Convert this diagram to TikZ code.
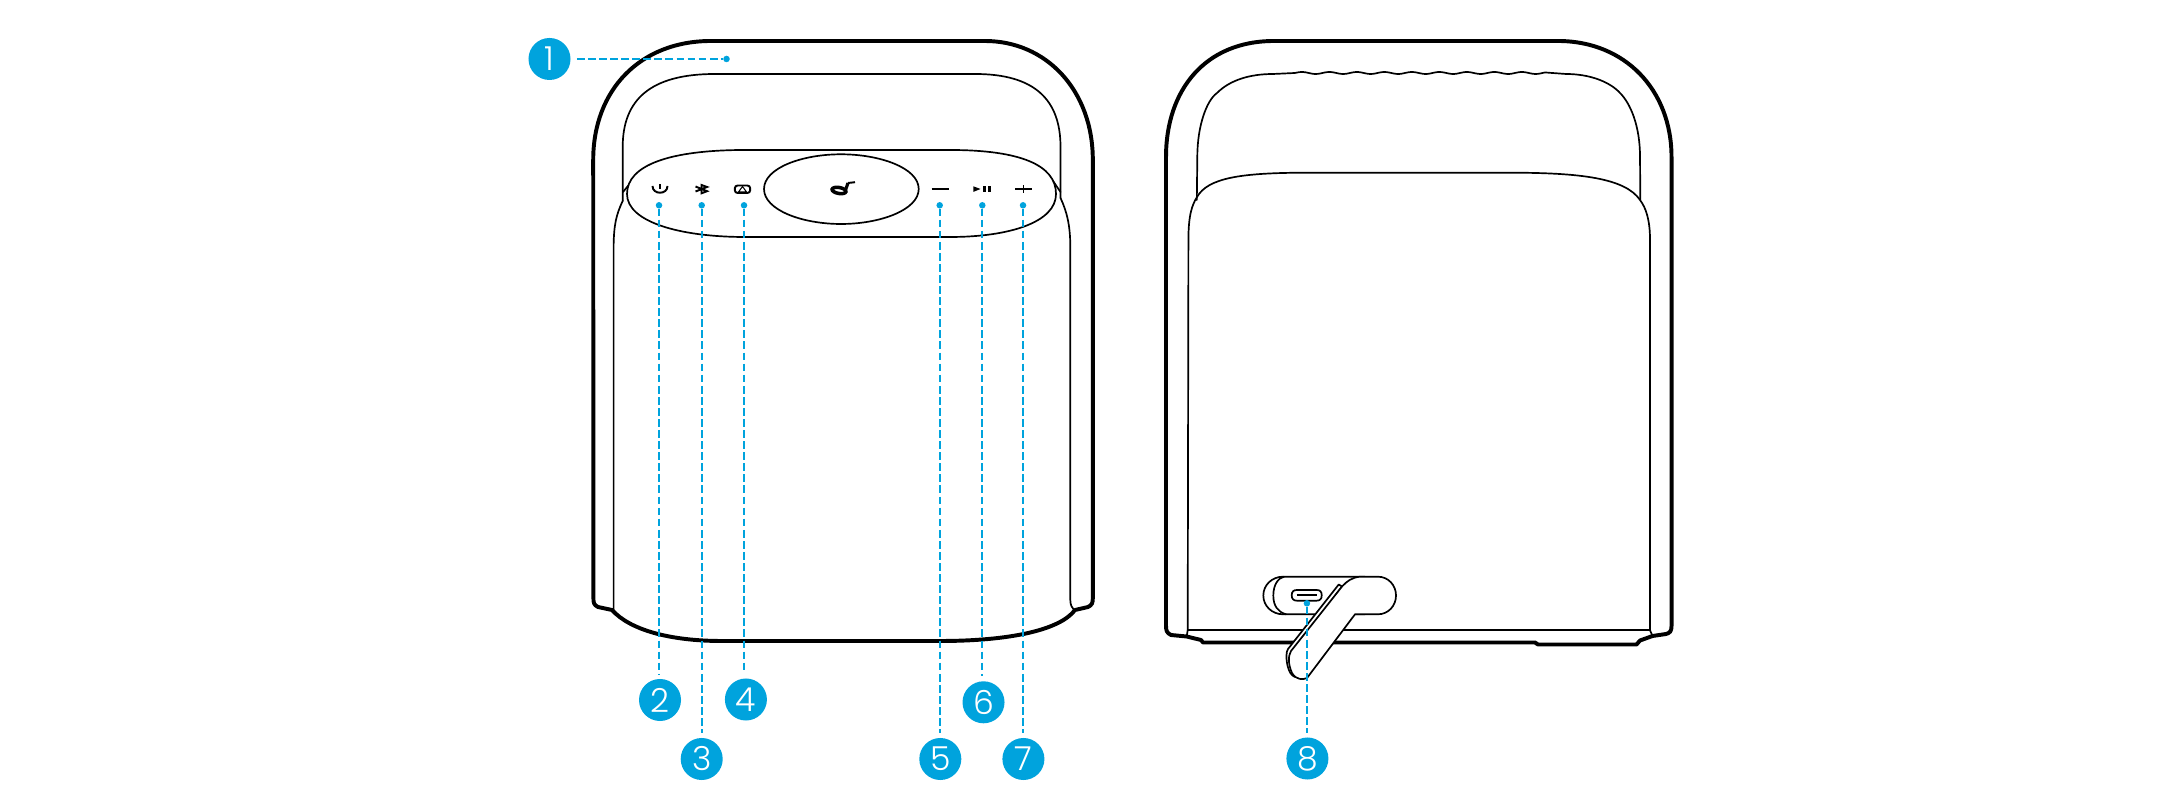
\documentclass[tikz,border=0pt]{standalone}
\usepackage{fontspec}
\setmainfont{Poppins}[UprightFont=* Light]
\definecolor{leadblue}{HTML}{00A3DD}
\tikzset{
  heavy/.style={black,line width=1.12pt,line join=round,line cap=round},
  thin line/.style={black,line width=0.48pt,line join=round,line cap=round},
  glyph/.style={black,line width=0.55pt},
  badge/.style={circle,fill=leadblue,text=white,minimum size=11.95pt,inner sep=0pt,outer sep=0pt,font=\fontsize{9.4pt}{9.4pt}\selectfont},
  pin/.style={circle,fill=leadblue,minimum size=1.85pt,inner sep=0pt,outer sep=0pt},
  leader/.style={leadblue,line width=0.55pt,dash pattern=on 2.2pt off 0.95pt},
}
\begin{document}
\begin{tikzpicture}[x=0.01cm,y=-0.01cm]
\useasboundingbox (0,0) rectangle (2180,798);

% --- front view ---
\draw[heavy] (598,607) .. controls (594,605) and (593.4,603) .. (593.4,598)
  -- (593.2,160) .. controls (593.2,90) and (640,41) .. (711,41)
  -- (985,41) .. controls (1046,41) and (1092.8,90) .. (1092.8,160)
  -- (1092.8,598) .. controls (1092.8,603) and (1092,605) .. (1088,607)
  -- (1075,610) .. controls (1060,630) and (1010,641) .. (940,641)
  -- (722,641) .. controls (670,641) and (630,630) .. (612,610) -- cycle;
\draw[thin line] (622.7,201) -- (622.7,147) .. controls (622.7,100) and (650,74) .. (715,74)
  -- (975,74) .. controls (1035,74) and (1060.5,100) .. (1060.5,147) -- (1060.5,198);
\draw[thin line] (622.7,201) .. controls (616,215) and (614,225) .. (613.6,245) -- (613.6,610);
\draw[thin line] (1060.5,198) .. controls (1067,212) and (1070,225) .. (1070.3,245) -- (1070.3,600)
  .. controls (1070.3,605) and (1072,608) .. (1074,610);
\draw[thin line] (623,192) -- (632,181);
\draw[thin line] (1060.5,192) -- (1051,178);
\draw[thin line,fill=white] (627,194) .. controls (627,165) and (670,150) .. (745,150)
  -- (950,150) .. controls (1020,150) and (1056,165) .. (1056,194)
  .. controls (1056,222) and (1010,237) .. (950,237)
  -- (745,237) .. controls (680,237) and (627,222) .. (627,194) -- cycle;
\draw[thin line] (764,189) .. controls (764,168) and (802,154.3) .. (841,154.3)
  .. controls (880,154.3) and (918.7,168) .. (918.7,189)
  .. controls (918.7,210) and (880,224) .. (841,224)
  .. controls (802,224) and (764,210) .. (764,189) -- cycle;

% panel icons
\draw[glyph] (652.5,186) .. controls (652.5,195) and (667.5,195) .. (667.5,186);
\draw[glyph] (660,184.5) -- (660,189.5);
\draw[glyph,line join=miter] (695.5,186.5) -- (707,191.2) -- (701.5,193.3) -- (701.5,185) -- (707,187) -- (695.5,191.5);
\draw[glyph,rounded corners=0.8pt] (734.8,185.5) rectangle (750.2,193);
\draw[black,line width=0.3pt] (742.5,186.5) -- (738.5,192) -- (746.5,192) -- cycle;
\draw[black,line width=1pt] (839,190.5) circle [x radius=7,y radius=3,rotate=-10];
\draw[black,line width=0.9pt] (845.5,190) -- (848,183);
\draw[black,line width=0.55pt] (848,183) -- (855,182.2);
\draw[black,line width=0.42pt] (931.7,189) -- (949,189);
\fill[black] (973.3,186.3) -- (980.5,189) -- (973.3,191.9) -- cycle;
\fill[black] (983,186.3) rectangle (986,191.9);
\fill[black] (987.5,186.3) rectangle (990.5,191.9);
\draw[black,line width=0.42pt] (1015,189) -- (1031.7,189);
\draw[black,line width=0.42pt] (1023.3,185.3) -- (1023.3,193);

% --- rear view ---
\draw[heavy] (1171,635) .. controls (1167,633) and (1166,631) .. (1166,626)
  -- (1166,157) .. controls (1166,90) and (1205,41) .. (1274,41)
  -- (1558,41) .. controls (1625,41) and (1671.5,90) .. (1671.5,157)
  -- (1671.5,626) .. controls (1671.5,631) and (1670,633) .. (1666,634)
  -- (1652.5,636) -- (1640,640.5) -- (1636.5,644.5) -- (1538,644.5) -- (1535,642.5)
  -- (1203,642.5) -- (1201,640) -- (1186.6,636.5) -- cycle;
\draw[thin line] (1196.8,200) -- (1197.3,157) .. controls (1197.3,125) and (1207,100) .. (1217,93)
  .. controls (1230,80) and (1250,74) .. (1273,74) -- (1295,73)
  -- plot[domain=1295:1545,samples=120,variable=\x] ({\x},{73-1.0*sin(13.09*(\x-1295))})
  -- (1566,74) .. controls (1590,74) and (1610,82) .. (1620,93)
  .. controls (1630,103) and (1640,125) .. (1640,157) -- (1640.3,200);
\draw[thin line] (1187.7,630.3) -- (1188.4,240) .. controls (1188.4,215) and (1192,205) .. (1197,197)
  .. controls (1208,178) and (1240,172.7) .. (1308,172.7)
  -- (1509,172.7) .. controls (1580,172.7) and (1625,178) .. (1640,200)
  .. controls (1646,208) and (1650,220) .. (1650,240) -- (1650,630.3);
\draw[thin line] (1187.7,630.3) -- (1650,630.3);
\draw[thin line] (1186.6,636.5) -- (1187.7,630.3);
\draw[thin line] (1652.5,636) -- (1650,630.3);

% charging port cover
\draw[thin line,fill=white] (1365,576.7) -- (1283,576.7)
  .. controls (1272,576.7) and (1263.3,585) .. (1263.3,595.5)
  .. controls (1263.3,606) and (1272,614.3) .. (1283,614.3) -- (1365,614.3) -- cycle;
\draw[thin line] (1284,576.7) .. controls (1278,578) and (1273.3,585) .. (1273.3,595.5)
  .. controls (1273.3,606) and (1278,612) .. (1286,614.3);
\draw[thin line,fill=white] (1291.7,595.3) .. controls (1291.7,591.5) and (1293.5,590) .. (1297,590)
  -- (1316.5,590) .. controls (1320,590) and (1321.7,591.5) .. (1321.7,595.3)
  .. controls (1321.7,599) and (1320,600.7) .. (1316.5,600.7)
  -- (1297,600.7) .. controls (1293.5,600.7) and (1291.7,599) .. (1291.7,595.3) -- cycle;
\draw[black,line width=0.65pt] (1296.7,595.3) -- (1316.7,595.3);
\draw[thin line,fill=white] (1338.7,584.5) -- (1342,586.5) -- (1293,652)
  .. controls (1290,660) and (1292,672) .. (1297,677)
  .. controls (1290,678) and (1286,665) .. (1286.5,655) .. controls (1286.5,652) and (1287,651) .. (1288,649) -- cycle;
\draw[thin line,fill=white] (1360,576.7) -- (1378,576.7)
  .. controls (1388,576.7) and (1396,585) .. (1396,595.5)
  .. controls (1396,606) and (1388,614.3) .. (1378,614.3)
  -- (1355,614.3) -- (1307,678)
  .. controls (1303,680) and (1296,680) .. (1292,673)
  .. controls (1288,664) and (1288,656) .. (1291,651)
  -- (1342,586.5) .. controls (1347,581) and (1352,577.5) .. (1360,576.7) -- cycle;

% --- callouts ---
\node[badge] (b1) at (549.5,59) {1};
\node[pin] (p1) at (726.5,59) {};
\draw[leader,shorten <=1.8pt] (b1.east) -- (p1);

\node[pin] (p2) at (659,205.3) {};
\node[pin] (p3) at (701.7,205.3) {};
\node[pin] (p4) at (744,205.3) {};
\node[pin] (p5) at (939.7,205.3) {};
\node[pin] (p6) at (982.3,205.3) {};
\node[pin] (p7) at (1023,205.3) {};
\node[pin] (p8) at (1306.9,603.3) {};
\node[badge] (b2) at (660,700) {2};
\node[badge] (b3) at (701.7,759) {3};
\node[badge] (b4) at (745.9,699.5) {4};
\node[badge] (b5) at (940.3,759) {5};
\node[badge] (b6) at (983.5,702.3) {6};
\node[badge] (b7) at (1023.4,759) {7};
\node[badge] (b8) at (1307.4,758.5) {8};
\foreach \k in {2,...,8}{
  \draw[leader,shorten >=1.4pt] (p\k) -- (p\k |- b\k.north);
}
\end{tikzpicture}
\end{document}
